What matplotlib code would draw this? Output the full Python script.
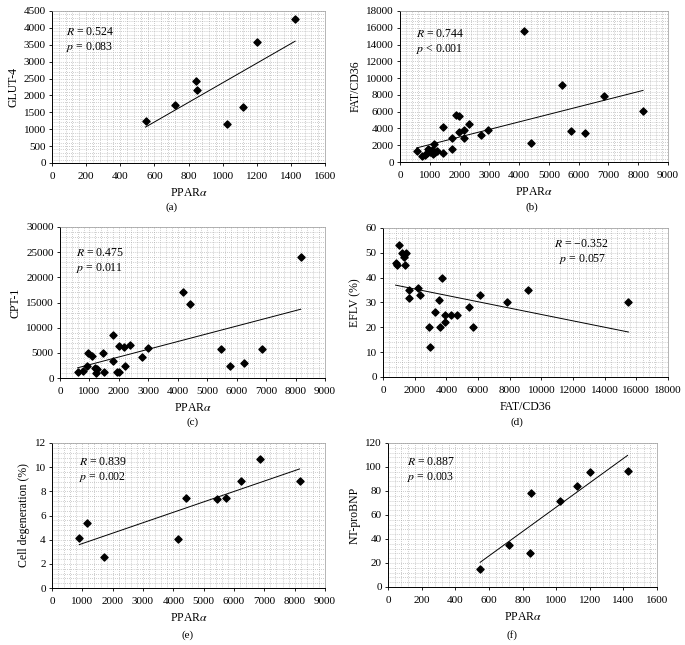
import numpy as np
import matplotlib
matplotlib.use("Agg")
import matplotlib.pyplot as plt
from matplotlib.ticker import MultipleLocator

plt.rcParams['font.family'] = ['Liberation Serif', 'DejaVu Serif']
plt.rcParams['mathtext.fontset'] = 'stix'
plt.rcParams['font.size'] = 7.5

# (a) PPARa vs GLUT-4
a_x = [548, 722, 845, 848, 1025, 1122, 1200, 1425]
a_y = [1240, 1730, 2420, 2170, 1160, 1670, 3580, 4250]

# (b) PPARa vs FAT/CD36
b_x = [559, 740, 850, 917, 950, 984, 1020, 1060, 1110, 1150, 1180, 1230,
       1431, 1453, 1744, 1755, 1878, 1968, 1979, 2135, 2158, 2326, 2728,
       2952, 4148, 4405, 5456, 5736, 6228, 6854, 8162]
b_y = [1350, 750, 800, 1070, 1590, 1390, 1200, 1400, 950, 2100, 1150, 1350,
       1110, 4200, 1510, 2900, 5630, 5440, 3570, 3850, 2820, 4560, 3250,
       3850, 15670, 2300, 9200, 3730, 3450, 7820, 6110]

# (c) PPARa vs CPT-1
c_x = [600, 792, 917, 962, 1087, 1189, 1211, 1245, 1472, 1506, 1789, 1789,
       1936, 2004, 2015, 2174, 2208, 2366, 2774, 2989, 4177, 4426, 5468,
       5762, 6238, 6872, 8174]
c_y = [1130, 1460, 2450, 4900, 4370, 1990, 1060, 1850, 4900, 1130, 8480,
       3310, 1260, 6290, 1130, 6160, 2380, 6490, 4170, 6030, 17150, 14700,
       5700, 2380, 3050, 5700, 24100]

# (d) FAT/CD36 vs EFLV
d_x = [796, 860, 1011, 1204, 1462, 1312, 1376, 1613, 1613, 2194, 2366, 2925,
       2946, 3312, 3527, 3613, 3742, 3892, 3914, 4280, 4645, 5441, 5677,
       6108, 7828, 9150, 15500]
d_y = [45.9, 45.0, 53.0, 50.0, 50.0, 48.2, 45.0, 35.0, 32.0, 36.0, 33.0, 20.0,
       12.0, 26.0, 31.0, 20.0, 40.0, 22.0, 25.0, 25.0, 25.0, 28.0, 20.0,
       33.0, 30.0, 35.0, 30.0]

# (e) PPARa vs cell degeneration
e_x = [900, 1150, 1720, 4148, 4405, 5456, 5736, 6228, 6854, 8162]
e_y = [4.15, 5.35, 2.55, 4.05, 7.45, 7.35, 7.45, 8.85, 10.7, 8.85]

# (f) PPARa vs NT-proBNP
f_x = [548, 722, 845, 848, 1025, 1122, 1200, 1425]
f_y = [15, 35, 28, 78, 72, 84, 96, 97]

W, H = 685, 645
fig = plt.figure(figsize=(W / 100, H / 100), dpi=100)


def panel(box, x, y, xmax, xstep, ymax, ystep, xlab, ylab, stats, txt_pos, tag, tag_xy):
    l, t, r, b = box
    ax = fig.add_axes([l / W, 1 - b / H, (r - l) / W, (b - t) / H])
    ax.scatter(x, y, marker='D', s=13, color='black', zorder=3)
    k, c = np.polyfit(x, y, 1)
    xs = np.array([min(x), max(x)])
    ax.plot(xs, k * xs + c, color='black', lw=0.7, zorder=2)
    ax.set_xlim(0, xmax)
    ax.set_ylim(0, ymax)
    ax.xaxis.set_major_locator(MultipleLocator(xstep))
    ax.yaxis.set_major_locator(MultipleLocator(ystep))
    ax.xaxis.set_minor_locator(MultipleLocator(xstep / 5))
    ax.yaxis.set_minor_locator(MultipleLocator(ystep / 5))
    ax.grid(which='both', color='#a0a0a0', lw=0.5, ls=(0, (1, 2)))
    ax.set_axisbelow(True)
    ax.tick_params(which='minor', length=0)
    ax.tick_params(which='major', length=2.5, width=0.6, labelsize=8)
    ax.tick_params(axis='x', pad=4)
    ax.tick_params(axis='y', pad=2)
    for s in ['top', 'right']:
        ax.spines[s].set_color('#999999')
        ax.spines[s].set_linewidth(0.5)
    for s in ['left', 'bottom']:
        ax.spines[s].set_linewidth(0.7)
    ax.set_xlabel(xlab, fontsize=8.5, labelpad=4)
    ax.set_ylabel(ylab, fontsize=8.5, labelpad=3)
    ax.text(txt_pos[0], txt_pos[1], stats, transform=ax.transAxes,
            fontsize=8.5, va='top', ha='left', linespacing=1.2)
    fig.text(tag_xy[0] / W, 1 - tag_xy[1] / H, tag, ha='center', va='center', fontsize=8)
    return ax


panel((52, 11, 325, 163), a_x, a_y, 1600, 200, 4500, 500, r'PPAR$\alpha$', 'GLUT-4',
      '$R$ = 0.524\n$p$ = 0.083', (0.05, 0.90), '(a)', (172, 207))
panel((400, 11, 668, 162), b_x, b_y, 9000, 1000, 18000, 2000, r'PPAR$\alpha$', 'FAT/CD36',
      '$R$ = 0.744\n$p$ < 0.001', (0.06, 0.89), '(b)', (532, 207))
panel((60, 227, 325, 378), c_x, c_y, 9000, 1000, 30000, 5000, r'PPAR$\alpha$', 'CPT-1',
      '$R$ = 0.475\n$p$ = 0.011', (0.06, 0.87), '(c)', (193, 422))
panel((383, 228, 668, 377), d_x, d_y, 18000, 2000, 60, 10, 'FAT/CD36', 'EFLV (%)',
      '$R$ = \u22120.352\n  $p$ = 0.057', (0.60, 0.93), '(d)', (517, 422))
panel((52, 443, 325, 588), e_x, e_y, 9000, 1000, 12, 2, r'PPAR$\alpha$', 'Cell degeneration (%)',
      '$R$ = 0.839\n$p$ = 0.002', (0.10, 0.91), '(e)', (188, 635))
panel((388, 443, 657, 587), f_x, f_y, 1600, 200, 120, 20, r'PPAR$\alpha$', 'NT-proBNP',
      '$R$ = 0.887\n$p$ = 0.003', (0.07, 0.91), '(f)', (512, 635))

fig.savefig('out.png', dpi=100)
